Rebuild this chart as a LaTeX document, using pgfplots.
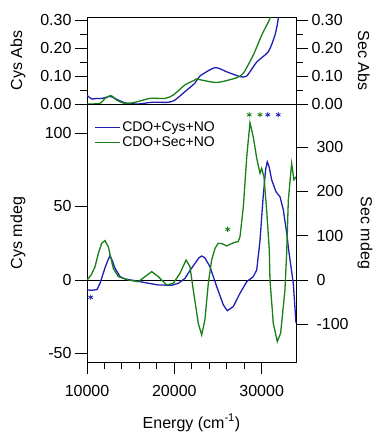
\documentclass[border=0pt]{standalone}
\usepackage{fontspec}
\setmainfont{Liberation Sans}
\usepackage{pgfplots}
\pgfplotsset{compat=1.18}
\definecolor{cblue}{RGB}{30,30,180}
\definecolor{cgreen}{RGB}{25,128,25}
\pgfplotsset{
  base/.style={scale only axis, width=209pt, xmin=10000, xmax=33930,
    tick align=outside, major tick length=12pt, minor tick length=7pt,
    axis line style={line width=0.9pt},
    every tick/.style={black, line width=0.9pt},
    /pgf/number format/assume math mode=true,
    tick label style={font=\fontsize{16}{19}\selectfont},
    label style={font=\fontsize{16}{19}\selectfont},
    scaled ticks=false},
}
\begin{document}
\begin{tikzpicture}
\useasboundingbox (-87pt,-71pt) rectangle (286pt,362pt);
% ---------- bottom panel, left (Cys mdeg) ----------
\begin{axis}[base, at={(0pt,0pt)}, anchor=south west, height=258pt,
  ymin=-55.8, ymax=119.7, ytick={-50,0,50,100}, ytick pos=left,
  xtick={10000,20000,30000}, minor x tick num=4, xtick pos=bottom,
  xticklabel style={/pgf/number format/1000 sep={}, yshift=-8pt},
  ylabel={Cys mdeg},
  ylabel style={at={(axis description cs:-0.330,0.5)}, anchor=center},
  xlabel={Energy (cm\textsuperscript{-1})},
  xlabel style={at={(axis description cs:0.5,0)}, anchor=base, yshift=-66pt},
  legend style={at={(axis description cs:0.02,0.946)}, anchor=north west,
    draw=none, fill=none, font=\fontsize{14}{16}\selectfont,
    row sep=1pt, nodes={inner sep=1.5pt}},
  legend cell align=left,
  legend image code/.code={\draw[#1, line width=1.4pt] (0pt,0pt) -- (25pt,0pt);},
]
\addlegendimage{cblue}
\addlegendentry{CDO+Cys+NO}
\addlegendimage{cgreen}
\addlegendentry{CDO+Sec+NO}
\addplot[black, line width=0.9pt, forget plot] coordinates {(10000,0) (33930,0)};
\addplot[cblue, line width=1.3pt, forget plot] coordinates {
(10000,-6.8) (10600,-7.0) (11150,-6.5) (11490,-2.3) (12060,8.2) (12400,13.5)
(12630,16.5) (12900,13) (13205,8) (13780,2.3) (14350,0.7) (15500,-0.5)
(16640,-1.8) (18160,-3.4) (19700,-3.6) (20450,-2.3) (21220,1.1) (21800,6.5)
(22370,11.3) (22800,15) (23130,16.3) (23500,15) (24080,9) (24850,-4.5)
(25610,-17) (26070,-20.9) (26750,-18.1) (27520,-9) (28290,-1.1) (29040,2.3)
(29430,6.8) (29690,20.4) (29810,27) (30150,55) (30450,75) (30640,80.4)
(30850,77) (31150,68) (31640,60) (32100,56.6) (32480,47.6) (32870,31.7)
(33090,20.4) (33620,-2.3) (33930,-29.3)};
\addplot[only marks, mark=asterisk, mark size=2.6pt, mark options={line width=0.8pt}, cgreen, forget plot] coordinates {
(26100,34.5) (28580,112.4) (29810,112.4)};
\addplot[only marks, mark=asterisk, mark size=2.6pt, mark options={line width=0.8pt}, cblue, forget plot] coordinates {
(30690,112.4) (31900,112.4) (10420,-11.8)};
\end{axis}
% ---------- bottom panel, right (Sec mdeg) ----------
\begin{axis}[base, at={(0pt,0pt)}, anchor=south west, height=258pt,
  ymin=-185.1, ymax=397.3, ytick={-100,0,100,200,300},
  axis y line*=right, axis x line=none,
  yticklabel style={xshift=5pt},
  ylabel={Sec mdeg},
  ylabel style={at={(axis description cs:1.330,0.5)}, anchor=center, rotate=180},
]
\addplot[cgreen, line width=1.3pt] coordinates {
(10000,0) (10500,12) (10920,30) (11300,60) (11680,83) (12060,89) (12440,75)
(13010,26) (13590,7.5) (14730,0) (15870,-3.8) (16640,7.5) (17410,19)
(18160,7.5) (19130,-11.3) (19880,-7.5) (20640,15) (21340,45) (21790,30)
(22170,-22.6) (22740,-97.7) (23130,-124) (23500,-90) (23890,-7.5) (24270,45)
(24660,71.5) (25030,83) (25450,82) (25990,77) (26750,84) (27320,87)
(27520,98) (27900,165) (28290,278) (28660,355) (29040,323) (29430,275)
(29810,241) (30000,252) (30260,233) (30570,158) (30870,68) (30950,0)
(31330,-98) (31790,-139) (32170,-120) (32660,-23) (32860,60) (33050,180)
(33430,263) (33700,226) (33930,233)};
\end{axis}
% ---------- top panel, left (Cys Abs) ----------
\begin{axis}[base, at={(0pt,258pt)}, anchor=south west, height=86.7pt,
  ymin=0, ymax=0.31, ytick={0,0.1,0.2,0.3}, minor y tick num=1, ytick pos=left,
  xtick=\empty,
  yticklabel style={/pgf/number format/.cd, fixed, fixed zerofill, precision=2},
  ylabel={Cys Abs},
  ylabel style={at={(axis description cs:-0.330,0.5)}, anchor=center},
]
\addplot[cblue, line width=1.3pt, smooth, tension=0.4] coordinates {
(10000,0.030) (10080,0.029) (10540,0.018) (11110,0.020) (11690,0.020)
(12630,0.027) (13200,0.020) (14350,0.004) (15870,0.000) (17400,0.006)
(19300,0.006) (20070,0.014) (21210,0.044) (22370,0.075) (22930,0.100)
(24660,0.130) (26000,0.115) (27520,0.098) (28290,0.100) (29430,0.150)
(30760,0.187) (31520,0.246) (31900,0.306) (32200,0.40)};
\end{axis}
% ---------- top panel, right (Sec Abs) ----------
\begin{axis}[base, at={(0pt,258pt)}, anchor=south west, height=86.7pt,
  ymin=0, ymax=0.31, ytick={0,0.1,0.2,0.3}, minor y tick num=1,
  axis y line*=right, axis x line=none,
  yticklabel style={/pgf/number format/.cd, fixed, fixed zerofill, precision=2},
  ylabel={Sec Abs},
  ylabel style={at={(axis description cs:1.325,0.5)}, anchor=center, rotate=180},
]
\addplot[cgreen, line width=1.3pt, smooth, tension=0.4] coordinates {
(10000,0.000) (11490,0.002) (12060,0.020) (12750,0.030) (13400,0.014)
(14350,0.002) (15500,0.006) (17210,0.020) (18930,0.020) (19880,0.032)
(21210,0.068) (22370,0.086) (22560,0.089) (24850,0.077) (27140,0.094)
(27900,0.110) (29040,0.175) (30000,0.246) (30950,0.306) (31300,0.35)};
\end{axis}
\end{tikzpicture}
\end{document}
